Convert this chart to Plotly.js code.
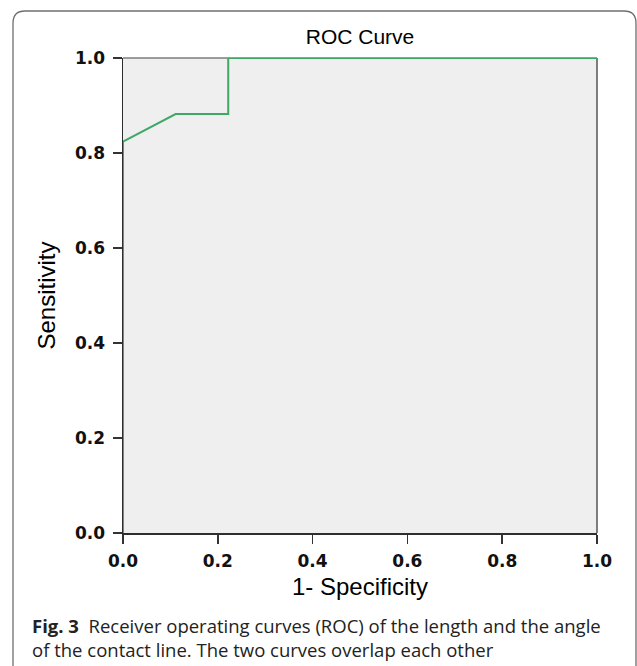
<!DOCTYPE html>
<html>
<head>
<meta charset="utf-8">
<script src="https://cdn.plot.ly/plotly-3.0.1.min.js"></script>
<style>html,body{margin:0;padding:0;background:#fff;}#chart{width:637px;height:666px;}</style>
</head>
<body>
<div id="chart"></div>
<script>
// Data
const fpr = [0, 0, 0.111, 0.222, 0.222, 1];        // 1 - Specificity
const tpr = [0, 0.824, 0.882, 0.882, 1, 1];        // Sensitivity
const tickVals = [0, 0.2, 0.4, 0.6, 0.8, 1.0];
const tickText = ["0.0", "0.2", "0.4", "0.6", "0.8", "1.0"];

const W = 637, H = 666;
const L = 123, R = 40, T = 58, B = 133;
const pw = W - L - R, ph = H - T - B;
const px = x => (x - L) / pw;
const py = y => (H - B - y) / ph;

const tickFont = {family: "DejaVu Sans", size: 17, color: "#111", weight: "bold"};
const titleFont = {family: "Liberation Sans, Arial, sans-serif", size: 24, color: "#000"};

// outer rounded box
const bl = px(13), br = px(636), bt = py(11), bb = py(700);
const rx = 12 / pw, ry = 12 / ph;
const boxPath = `M ${bl},${bb} L ${bl},${bt - ry} Q ${bl},${bt} ${bl + rx},${bt} L ${br - rx},${bt} Q ${br},${bt} ${br},${bt - ry} L ${br},${bb}`;

const trace = {
  x: fpr, y: tpr, type: "scatter", mode: "lines",
  line: {color: "#3fa866", width: 2},
  cliponaxis: false, hoverinfo: "skip", showlegend: false
};

const layout = {
  width: W, height: H,
  margin: {l: L, r: R, t: T, b: B, pad: 0},
  paper_bgcolor: "#ffffff",
  plot_bgcolor: "rgba(0,0,0,0)",
  showlegend: false,
  title: {
    text: "ROC Curve",
    font: {family: "Liberation Sans, Arial, sans-serif", size: 21, color: "#000"},
    x: 0.5, xref: "paper", xanchor: "center",
    y: 1 - 37 / H, yref: "container", yanchor: "middle"
  },
  xaxis: {
    range: [0, 1], tickvals: tickVals, ticktext: tickText,
    ticks: "outside", ticklen: 9, tickwidth: 1.5, tickcolor: "#333",
    showline: true, linecolor: "#2b2f2d", linewidth: 1.5, mirror: false,
    showgrid: false, zeroline: false, tickfont: tickFont,
    ticklabelstandoff: 3,
    title: {text: "1- Specificity", font: titleFont, standoff: 8},
    fixedrange: true
  },
  yaxis: {
    range: [0, 1], tickvals: tickVals, ticktext: tickText,
    ticks: "outside", ticklen: 9, tickwidth: 1.5, tickcolor: "#333",
    showline: true, linecolor: "#2b2f2d", linewidth: 1.5, mirror: false,
    showgrid: false, zeroline: false, tickfont: tickFont,
    ticklabelstandoff: 4,
    title: {text: "Sensitivity", font: titleFont, standoff: 12},
    fixedrange: true
  },
  shapes: [
    {type: "rect", xref: "paper", yref: "paper", x0: 0, x1: 1, y0: 0, y1: 1,
     fillcolor: "#efefef", line: {width: 0}, layer: "below"},
    {type: "line", xref: "paper", yref: "paper", x0: 0, x1: 1, y0: 1, y1: 1,
     line: {color: "#7d7d7d", width: 1.5}, layer: "below"},
    {type: "line", xref: "paper", yref: "paper", x0: 1, x1: 1, y0: 0, y1: 1,
     line: {color: "#555", width: 1.5}, layer: "below"},
    {type: "path", xref: "paper", yref: "paper", path: boxPath,
     line: {color: "#6f6f6f", width: 1.3}, layer: "below"}
  ],
  annotations: [
    {
      text: "<b>Fig. 3</b>  Receiver operating curves (ROC) of the length and the angle<br>of the contact line. The two curves overlap each other",
      xref: "paper", yref: "paper", x: px(30), y: py(611),
      xanchor: "left", yanchor: "top", align: "left", showarrow: false,
      font: {family: "Open Sans", size: 18.5, color: "#222"}
    }
  ]
};

Plotly.newPlot("chart", [trace], layout, {staticPlot: true, displayModeBar: false});
</script>
</body>
</html>
